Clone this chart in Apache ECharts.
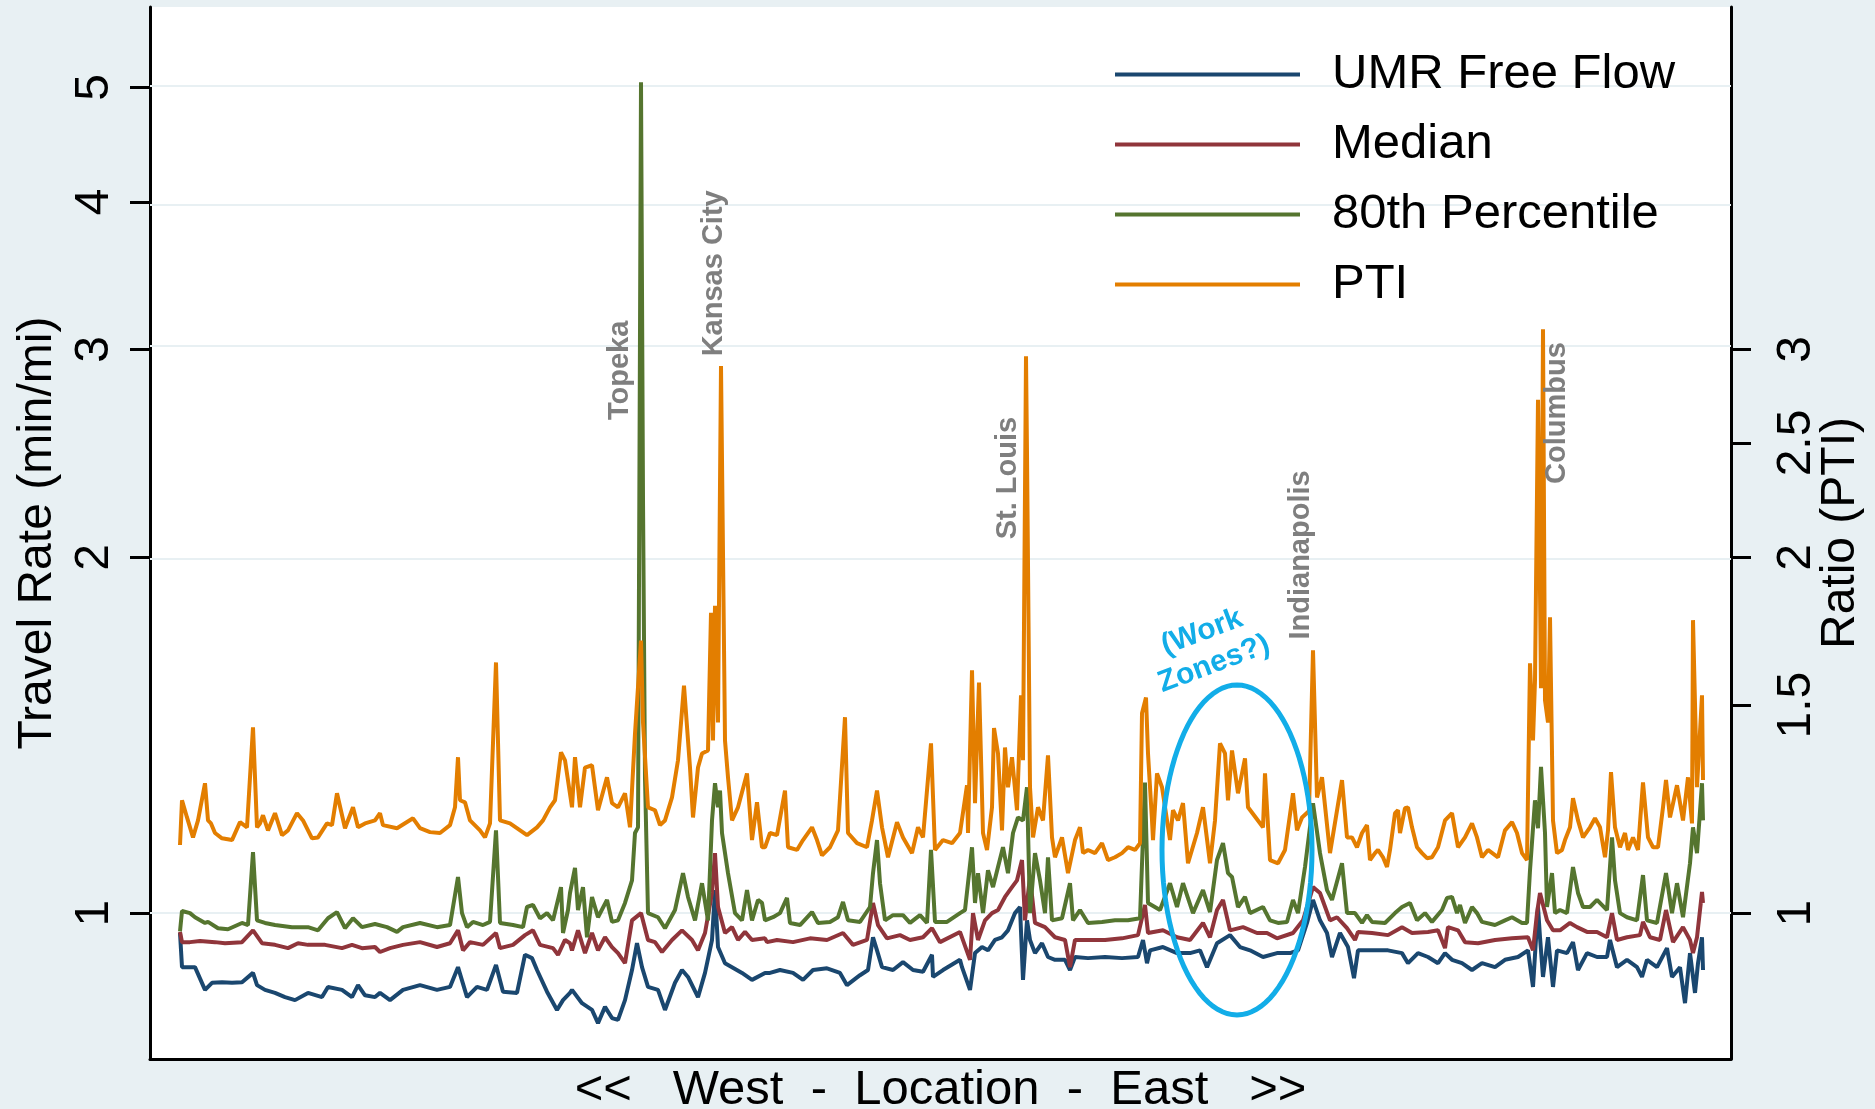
<!DOCTYPE html>
<html><head><meta charset="utf-8">
<script src="https://cdn.jsdelivr.net/npm/echarts@6/dist/echarts.min.js"></script>
<style>html,body{margin:0;padding:0;background:#e8f0f3;}#c{width:1875px;height:1109px;}</style>
</head><body><div id="c"></div>
<script>
// Location index (west -> east) paired with travel rate (min/mi) or ratio (PTI)
const freeFlow = [[0,0.962],[2,0.900],[15,0.900],[25,0.861],[32,0.873],[42,0.874],[52,0.873],[62,0.874],[73,0.890],[77,0.869],[85,0.861],[95,0.856],[105,0.849],[115,0.844],[128,0.856],[142,0.849],[148,0.866],[162,0.861],[172,0.849],[178,0.869],[185,0.852],[195,0.849],
[200,0.856],[210,0.844],[223,0.861],[240,0.869],[257,0.861],[270,0.866],[278,0.900],[287,0.849],[297,0.866],[307,0.861],[316,0.904],[323,0.858],[337,0.856],[345,0.922],[352,0.916],[357,0.895],[367,0.858],[377,0.828],[383,0.844],[390,0.856],
[392,0.861],[402,0.839],[412,0.828],[418,0.807],[425,0.833],[432,0.815],[438,0.812],[445,0.844],[452,0.895],[457,0.943],[462,0.900],[468,0.866],[478,0.861],[485,0.828],[495,0.873],[502,0.895],[508,0.883],[518,0.849],[525,0.890],[532,0.949],[535,1.046],[538,0.936],[545,0.907],[552,0.900],[562,0.890],[572,0.878],[585,0.890],
[590,0.890],[600,0.895],[613,0.890],[623,0.878],[633,0.895],[647,0.898],[660,0.890],[667,0.869],[680,0.886],[688,0.895],[693,0.954],[697,0.930],[702,0.900],[713,0.895],[723,0.909],[733,0.895],[743,0.892],[752,0.922],[753,0.883],[763,0.895],[780,0.913],
[782,0.900],[790,0.861],[795,0.925],[802,0.936],[808,0.930],[815,0.949],[822,0.954],[828,0.967],[835,1.000],[840,1.012],[843,0.878],[847,0.986],[850,0.949],[855,0.925],[862,0.943],[868,0.918],[875,0.913],[885,0.913],[890,0.895],[895,0.918],[908,0.916],[925,0.918],[942,0.916],[958,0.918],[963,0.949],[967,0.907],
[970,0.930],[983,0.936],[997,0.925],[1010,0.925],[1020,0.930],[1027,0.900],[1037,0.943],[1050,0.958],[1060,0.936],[1070,0.930],[1083,0.918],[1097,0.925],[1110,0.925],[1118,0.930],[1127,0.981],[1133,1.026],[1140,0.986],[1147,0.962],[1152,0.918],[1160,0.962],[1168,0.936],
[1174,0.881],[1178,0.930],[1192,0.930],[1208,0.930],[1222,0.925],[1228,0.907],[1238,0.925],[1248,0.918],[1258,0.907],[1265,0.925],[1272,0.913],[1282,0.907],[1292,0.895],[1302,0.907],[1315,0.900],[1325,0.913],[1338,0.918],[1348,0.930],[1353,0.866],[1358,1.012],[1360,0.954],[1363,0.883],[1368,0.954],[1373,0.866],[1377,0.930],[1387,0.925],[1393,0.945],[1398,0.895],[1407,0.925],[1417,0.918],[1427,0.918],[1430,0.949],[1437,0.900],[1447,0.913],[1457,0.900],[1462,0.883],[1467,0.913],[1477,0.900],[1487,0.934],[1492,0.883],[1500,0.900],[1505,0.839],[1510,0.925],[1515,0.856],[1518,0.907],[1522,0.954],[1523,0.895]];

const median = [[0,0.964],[2,0.945],[10,0.945],[20,0.947],[35,0.945],[45,0.943],[62,0.945],[73,0.967],[82,0.943],[95,0.940],[108,0.934],[118,0.943],[128,0.940],[145,0.940],[162,0.934],[172,0.940],[182,0.934],[195,0.936],
[200,0.927],[210,0.934],[223,0.940],[240,0.945],[257,0.936],[270,0.943],[278,0.967],[283,0.930],[290,0.945],[303,0.940],[316,0.962],[320,0.934],[333,0.940],[345,0.958],[353,0.967],[360,0.940],[373,0.934],[378,0.922],[385,0.949],[390,0.943],
[392,0.930],[398,0.967],[405,0.925],[412,0.962],[418,0.930],[425,0.954],[432,0.936],[438,0.925],[445,0.907],[452,0.986],[461,1.000],[468,0.949],[475,0.945],[482,0.927],[492,0.949],[502,0.967],[512,0.949],[518,0.930],[525,0.962],[532,1.040],[535,1.124],[538,1.012],[545,0.962],[552,0.973],[558,0.949],[565,0.964],[572,0.949],[585,0.952],
[587,0.945],[597,0.949],[613,0.945],[630,0.952],[647,0.949],[663,0.962],[673,0.940],[687,0.949],[693,1.020],[698,0.977],[707,0.952],[720,0.958],[730,0.949],[743,0.954],[752,0.971],[760,0.945],[780,0.964],
[782,0.964],[790,0.913],[793,1.000],[798,0.949],[805,0.986],[812,1.000],[818,1.006],[825,1.032],[832,1.052],[837,1.066],[842,1.109],[845,0.986],[850,1.073],[855,0.981],[865,0.973],[875,0.954],[885,0.949],[890,0.900],[895,0.949],[908,0.949],[925,0.949],[942,0.952],[958,0.958],[965,1.016],[968,0.962],
[970,0.962],[983,0.967],[997,0.954],[1010,0.949],[1023,0.981],[1030,0.954],[1037,1.006],[1043,1.026],[1050,0.967],[1063,0.973],[1077,0.962],[1087,0.962],[1097,0.952],[1113,0.962],[1123,0.986],[1133,1.052],[1140,1.040],[1150,0.986],[1157,0.992],[1167,0.971],
[1175,0.949],[1178,0.964],[1192,0.962],[1208,0.958],[1222,0.973],[1232,0.962],[1248,0.964],[1258,0.967],[1265,0.934],[1268,0.973],[1278,0.967],[1285,0.945],[1298,0.943],[1315,0.949],[1332,0.952],[1348,0.954],[1353,0.930],[1357,1.000],[1360,1.040],[1367,0.986],[1373,0.967],[1380,0.967],[1390,0.981],[1397,0.973],[1407,0.964],[1417,0.964],[1427,0.954],[1432,1.000],[1437,0.949],[1447,0.954],[1460,0.958],[1463,0.983],[1470,0.954],[1480,0.949],[1486,1.006],[1493,0.945],[1503,0.973],[1510,0.949],[1513,0.925],[1517,0.954],[1522,1.042],[1523,1.020]];

const pct80 = [[0,0.965],[2,1.004],[10,1.000],[15,0.992],[25,0.981],[28,0.983],[38,0.971],[48,0.969],[62,0.981],[68,0.977],[73,1.126],[77,0.986],[85,0.981],[95,0.977],[112,0.973],[128,0.973],[138,0.967],[148,0.990],[157,1.002],[165,0.971],[173,0.990],[182,0.973],[195,0.979],
[207,0.973],[217,0.964],[223,0.973],[240,0.981],[257,0.973],[270,0.977],[278,1.073],[282,1.000],[287,0.973],[293,0.983],[303,0.977],[310,0.983],[316,1.175],[320,0.981],[333,0.977],[343,0.973],[347,1.012],[353,1.016],[360,0.990],[367,1.000],[373,0.986],[381,1.052],[383,0.962],
[388,1.006],[390,1.040],[395,1.092],[398,1.006],[403,1.052],[407,0.954],[412,1.032],[418,0.992],[427,1.026],[432,0.983],[438,0.986],[445,1.020],[452,1.066],[455,1.169],[458,1.182],[461,5.05],[463,2.24],[465,1.30],[468,1.000],[478,0.992],[485,0.971],[495,1.006],[503,1.081],[508,1.032],[515,0.986],[522,1.060],[528,0.986],[532,1.198],[535,1.288],[538,1.229],[540,1.27],[542,1.169],[548,1.081],[555,1.000],[562,0.986],[567,1.046],[572,0.986],[578,1.026],[582,1.020],[585,0.986],
[593,0.992],[600,1.000],[607,1.030],[610,0.981],[620,0.977],[632,1.002],[638,0.981],[650,0.983],[658,0.992],[663,1.022],[668,0.986],[680,0.983],[690,1.012],[693,1.081],[697,1.153],[700,1.060],[705,0.986],[713,0.996],[723,0.996],[730,0.981],[740,0.996],[747,0.981],[751,1.131],[755,0.983],[767,0.983],[780,1.000],
[785,1.006],[792,1.137],[795,1.020],[798,1.081],[803,1.000],[808,1.087],[813,1.052],[818,1.094],[823,1.137],[828,1.081],[833,1.169],[838,1.205],[843,1.198],[847,1.278],[850,1.000],[855,1.124],[860,1.066],[865,1.000],[868,1.115],[872,0.986],[882,0.990],[890,1.060],[893,0.986],[900,1.006],[908,0.981],[922,0.983],[935,0.986],[948,0.986],[960,0.990],[965,1.290],[968,1.020],
[970,1.020],[980,1.006],[990,1.060],[997,1.012],[1003,1.060],[1013,1.000],[1023,1.046],[1030,1.002],[1037,1.109],[1043,1.146],[1048,1.081],[1052,1.073],[1058,1.012],[1065,1.032],[1070,1.000],[1083,1.012],[1090,0.986],[1098,0.981],[1107,0.983],[1113,1.026],[1118,1.000],[1125,1.094],[1133,1.239],[1140,1.124],[1147,1.046],[1152,1.026],[1162,1.102],[1167,1.000],
[1175,1.000],[1182,0.981],[1187,0.996],[1192,0.983],[1205,0.981],[1215,1.000],[1222,1.012],[1230,1.020],[1237,0.986],[1245,1.000],[1252,0.983],[1262,1.006],[1267,1.030],[1272,1.032],[1277,1.000],[1280,1.016],[1285,0.981],[1292,1.012],[1297,1.000],[1302,0.983],[1315,0.977],[1325,0.986],[1332,0.992],[1342,0.981],[1347,0.981],[1350,1.087],[1355,1.246],[1358,1.18],[1361,1.33],[1365,1.169],[1367,1.012],[1372,1.081],[1375,1.000],[1380,1.006],[1387,1.000],[1393,1.094],[1398,1.040],[1403,1.012],[1410,1.012],[1417,1.026],[1427,1.006],[1432,1.159],[1435,1.066],[1440,1.000],[1447,0.992],[1457,0.986],[1463,1.077],[1467,0.986],[1477,0.981],[1486,1.081],[1492,1.000],[1497,1.060],[1503,0.992],[1510,1.102],[1513,1.182],[1517,1.124],[1522,1.288],[1523,1.198]];

const pti = [[0,1.142],[2,1.246],[7,1.205],[13,1.159],[18,1.198],[25,1.288],[28,1.198],[31,1.191],[35,1.169],[42,1.157],[52,1.153],[60,1.194],[67,1.182],[73,1.436],[77,1.182],[80,1.191],[83,1.210],[88,1.175],[95,1.215],[102,1.164],[108,1.175],[117,1.215],[123,1.198],[132,1.157],[138,1.159],[147,1.191],[152,1.187],[157,1.263],[165,1.180],[173,1.229],[178,1.182],[185,1.191],[195,1.198],
[200,1.215],[203,1.187],[217,1.180],[233,1.203],[240,1.180],[250,1.171],[260,1.169],[270,1.187],[275,1.229],[278,1.355],[280,1.246],[285,1.241],[290,1.198],[300,1.175],[305,1.159],[310,1.191],[316,1.630],[320,1.198],[330,1.191],[347,1.164],[357,1.182],[363,1.198],[370,1.229],[375,1.246],[381,1.368],[385,1.347],
[392,1.229],[395,1.355],[400,1.229],[405,1.328],[412,1.334],[418,1.222],[427,1.303],[432,1.239],[438,1.229],[445,1.263],[450,1.182],[455,1.419],[461,1.701],[463,1.45],[468,1.229],[475,1.222],[480,1.187],[485,1.198],[492,1.253],[498,1.347],[504,1.558],[510,1.328],[513,1.205],[518,1.328],[522,1.365],[528,1.373],[531,1.796],[533,1.40],[535,1.82],[538,1.45],[541,2.905],[542,2.42],[545,1.40],[548,1.303],[552,1.198],[558,1.229],[567,1.313],[572,1.153],[577,1.241],[582,1.137],
[585,1.137],[590,1.169],[597,1.164],[605,1.270],[608,1.137],[617,1.131],[623,1.153],[632,1.182],[637,1.153],[642,1.119],[650,1.137],[658,1.175],[665,1.465],[668,1.169],[677,1.146],[687,1.137],[692,1.198],[697,1.270],[702,1.182],[708,1.115],[717,1.194],[723,1.159],[732,1.124],[738,1.182],[743,1.159],[751,1.392],[755,1.131],[763,1.153],[772,1.146],[780,1.169],
[787,1.283],[788,1.169],[792,1.605],[795,1.239],[799,1.567],[803,1.169],[807,1.131],[812,1.229],[814,1.434],[818,1.365],[822,1.175],[825,1.381],[828,1.278],[832,1.355],[837,1.222],[841,1.529],[843,1.347],[846,2.96],[847,2.45],[850,1.278],[853,1.159],[858,1.229],[863,1.198],[868,1.360],[872,1.159],[875,1.115],[882,1.159],[888,1.081],[895,1.153],[900,1.182],[903,1.124],[908,1.131],[915,1.124],[922,1.146],[928,1.109],[935,1.115],[942,1.124],[948,1.137],[955,1.131],[960,1.146],[962,1.476],[966,1.522],[968,1.365],[972,1.198],
[973,1.153],[977,1.313],[982,1.278],[990,1.153],[993,1.222],[998,1.198],[1003,1.239],[1008,1.102],[1017,1.169],[1023,1.229],[1030,1.102],[1035,1.198],[1040,1.392],[1045,1.365],[1048,1.246],[1052,1.373],[1058,1.263],[1065,1.352],[1068,1.229],[1083,1.182],[1085,1.313],[1090,1.109],[1098,1.102],[1105,1.131],[1113,1.263],[1117,1.175],[1122,1.205],[1129,1.22],[1133,1.669],[1137,1.253],[1142,1.303],[1150,1.124],[1162,1.296],[1167,1.159],
[1172,1.159],[1177,1.137],[1182,1.169],[1187,1.187],[1190,1.109],[1195,1.124],[1198,1.131],[1203,1.115],[1207,1.094],[1210,1.131],[1215,1.215],[1218,1.222],[1220,1.169],[1225,1.227],[1228,1.229],[1232,1.182],[1237,1.137],[1242,1.124],[1247,1.113],[1252,1.115],[1258,1.137],[1265,1.198],[1272,1.215],[1278,1.137],[1285,1.159],[1292,1.191],[1297,1.159],[1302,1.115],[1308,1.131],[1318,1.115],[1325,1.175],[1332,1.194],[1337,1.169],[1342,1.124],[1347,1.109],[1350,1.627],[1353,1.40],[1355,1.574],[1358,2.72],[1361,1.55],[1363,3.12],[1365,1.514],[1368,1.45],[1370,1.78],[1373,1.198],[1377,1.124],
[1382,1.131],[1385,1.153],[1390,1.182],[1393,1.251],[1398,1.198],[1403,1.159],[1410,1.182],[1415,1.203],[1420,1.182],[1425,1.115],[1428,1.175],[1431,1.316],[1435,1.182],[1440,1.137],[1445,1.169],[1448,1.131],[1453,1.159],[1458,1.131],[1463,1.290],[1468,1.159],[1473,1.137],[1478,1.137],[1483,1.229],[1486,1.296],[1490,1.205],[1497,1.283],[1503,1.198],[1508,1.303],[1512,1.191],[1513,1.77],[1517,1.278],[1522,1.529],[1523,1.296]];

const seriesNames = ['UMR Free Flow', 'Median', '80th Percentile', 'PTI'];
const leftTicks = [1, 2, 3, 4, 5];
const rightTicks = [1, 1.5, 2, 2.5, 3];
const cityNames = ['Topeka', 'Kansas City', 'St. Louis', 'Indianapolis', 'Columbus'];
const cityLoc = [440, 534, 828, 1121, 1377];
const cityRate = [2.88, 3.48, 2.335, 2.01, 2.65];
const noteText = '(Work\nZones?)';
const noteLoc = 1028, noteRate = 1.676;
const ringLoc = 1057, ringRate = 1.131;

const L = Math.log10;
const yMin = L(0.7525), yMax = L(5.848);
const colors = ['#1a476f', '#90353b', '#55752f', '#e37e00'];
const reg = '"Liberation Sans",Arial,sans-serif';
const fmt = v => String(+Math.pow(10, v).toFixed(1));

const yBase = (pos, ticks, name, gap, margin) => ({
  type: 'value', position: pos, min: yMin, max: yMax,
  name: name, nameLocation: 'middle', nameRotate: 90, nameGap: gap, nameMoveOverlap: false,
  nameTextStyle: { fontSize: 48, color: '#000', fontFamily: reg },
  axisLine: { show: true, onZero: false, lineStyle: { color: '#000', width: 3 } },
  axisTick: { show: true, length: 20, lineStyle: { color: '#000', width: 3 }, customValues: ticks.map(L) },
  axisLabel: { show: true, rotate: 90, margin: margin, fontSize: 48, color: '#000', fontFamily: reg, customValues: ticks.map(L), formatter: fmt },
  splitLine: { show: false }
});

const datasets = [freeFlow, median, pct80, pti];
const option = {
  animation: false,
  backgroundColor: '#e8f0f3',
  grid: { left: 150, right: 144, top: 7, bottom: 50, show: true, backgroundColor: '#ffffff', borderWidth: 0, containLabel: false, outerBoundsMode: 'none' },
  xAxis: {
    type: 'value', min: -30, max: 1551,
    name: '<<   West  -  Location  -  East   >>', nameLocation: 'middle', nameGap: 7,
    nameTextStyle: { fontSize: 49, color: '#000', fontFamily: reg },
    axisLine: { show: true, onZero: false, lineStyle: { color: '#000', width: 3 } },
    axisTick: { show: false }, axisLabel: { show: false }, splitLine: { show: false }
  },
  yAxis: [
    yBase('left', leftTicks, 'Travel Rate (min/mi)', 88, 31),
    yBase('right', rightTicks, 'Ratio (PTI)', 86, 42)
  ],
  legend: {
    orient: 'vertical', left: 1110, top: 45, icon: 'rect', itemWidth: 185, itemHeight: 4, itemGap: 21,
    textStyle: { fontSize: 49, color: '#000', fontFamily: reg, padding: [0, 0, 0, 27] },
    data: seriesNames
  },
  series: datasets.map((d, i) => ({
    name: seriesNames[i], type: 'line', yAxisIndex: i === 3 ? 1 : 0,
    data: d.map(p => [p[0], L(p[1])]),
    symbol: 'none', color: colors[i],
    lineStyle: { color: colors[i], width: 4 },
    z: 2 + i,
    markLine: i === 0 ? {
      silent: true, symbol: 'none', label: { show: false },
      lineStyle: { color: '#e8f0f3', width: 2, type: 'solid' },
      data: leftTicks.map(t => ({ yAxis: L(t) })), z: 1
    } : undefined
  }))
};

const chart = echarts.init(document.getElementById('c'));
chart.setOption(option);
const px = (loc, v) => chart.convertToPixel({ gridIndex: 0 }, [loc, L(v)]);
const graphics = cityNames.map((n, i) => {
  const p = px(cityLoc[i], cityRate[i]);
  return { type: 'text', x: p[0], y: p[1], rotation: Math.PI / 2, z: 20,
    style: { text: n, fill: '#7f7f7f', font: 'bold 29px ' + reg, textAlign: 'center', textVerticalAlign: 'middle', align: 'center', verticalAlign: 'middle' } };
});
const np = px(noteLoc, noteRate);
graphics.push({ type: 'text', x: np[0], y: np[1], rotation: 0.36, z: 20,
  style: { text: noteText, fill: '#12ade8', font: 'bold 30px ' + reg, lineHeight: 34, textAlign: 'center', textVerticalAlign: 'middle', align: 'center', verticalAlign: 'middle' } });
const rp = px(ringLoc, ringRate);
const pts = [];
for (let k = 0; k < 96; k++) { const a = k / 96 * 2 * Math.PI; pts.push([rp[0] + 75 * Math.cos(a), rp[1] + 165 * Math.sin(a)]); }
graphics.push({ type: 'polygon', z: 20, shape: { points: pts }, style: { fill: 'none', stroke: '#12ade8', lineWidth: 5 } });
chart.setOption({ graphic: graphics });
</script></body></html>
